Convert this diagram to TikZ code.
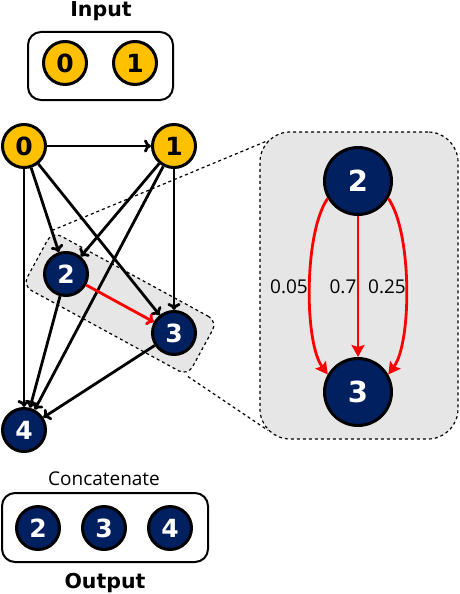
\documentclass[tikz,border=0pt]{standalone}
\usepackage{fontspec}
\setmainfont{Open Sans}
\newfontfamily\dejavu{DejaVu Sans}
\usetikzlibrary{arrows.meta}
\definecolor{gold}{HTML}{FFC000}
\definecolor{navy}{HTML}{002060}
\definecolor{shade}{HTML}{E6E6E6}
\begin{document}
\begin{tikzpicture}[x=1pt,y=-1pt,>={To[length=7pt,width=13pt]},
    yel/.style={circle,draw,line width=3pt,fill=gold,minimum size=43pt,inner sep=0pt,
        font=\dejavu\bfseries\fontsize{25}{25}\selectfont},
    nav/.style={yel,fill=navy,text=white},
    big/.style={nav,minimum size=67pt,font=\dejavu\bfseries\fontsize{29}{29}\selectfont},
    link/.style={->,line width=2.8pt},
    pedge/.style={red,line width=2.8pt,-{Stealth[length=12pt,width=13pt,inset=2pt]}},
    box/.style={draw,line width=2pt,rounded corners=13pt},
    zoomb/.style={draw,dashed,line width=1.2pt,fill=shade},
    title/.style={anchor=base,font=\dejavu\bfseries\fontsize{20.5}{20.5}\selectfont},
    prob/.style={anchor=base,font=\fontsize{19}{19}\selectfont}]
    \useasboundingbox (0,0) rectangle (460,594);
    % input / output
    \draw[box] (28,32) rectangle (173,100);
    \draw[box] (2,493) rectangle (208,562);
    \node[title] (tin) at (101,17) {Input};
    \node[title] (tout) at (105,588) {Output};
    \node[prob] (tcat) at (104,485) {Concatenate};
    \node[yel] (i0) at (65,63) {0};
    \node[yel] (i1) at (135,63) {1};
    \node[nav] (o2) at (38,528) {2};
    \node[nav] (o3) at (104,528) {3};
    \node[nav] (o4) at (170,528) {4};
    % zoom
    \node[zoomb,rotate=-28.6,minimum width=188pt,minimum height=62pt,rounded corners=10pt] (sel) at (120,303.5) {};
    \node[zoomb,minimum width=198pt,minimum height=307pt,rounded corners=30pt] (zoom) at (359,285.5) {};
    \draw[dashed,line width=1.2pt] (sel.north west)--([shift={(9pt,-9pt)}]zoom.north west);
    \draw[dashed,line width=1.2pt] (sel.south east)--([shift={(9pt,9pt)}]zoom.south west);
    % graph
    \node[yel] (n0) at (24,146) {0};
    \node[yel] (n1) at (174,146) {1};
    \node[nav] (n2) at (66,274) {2};
    \node[nav] (n3) at (174,333) {3};
    \node[nav] (n4) at (24,430) {4};
    \foreach \a/\b in {n0/n1,n0/n2,n0/n3,n0/n4,n1/n2,n1/n3,n1/n4,n2/n4,n3/n4}
        \draw[link] (\a)--(\b);
    \draw[link,red] (n2)--(n3);
    % weights
    \node[big] (b2) at (358,181) {2};
    \node[big] (b3) at (358,392) {3};
    \draw[pedge] (b2)--(b3);
    \draw[pedge] (b2.210) .. controls (304,232) and (304,342) .. (b3.150);
    \draw[pedge] (b2.330) .. controls (412,232) and (412,342) .. (b3.30);
    \path
    (289,293) node[prob] (w0) {0.05}
    (343,293) node[prob] (w1) {0.7}
    (387,293) node[prob] (w2) {0.25}
    ;
\end{tikzpicture}
\end{document}
